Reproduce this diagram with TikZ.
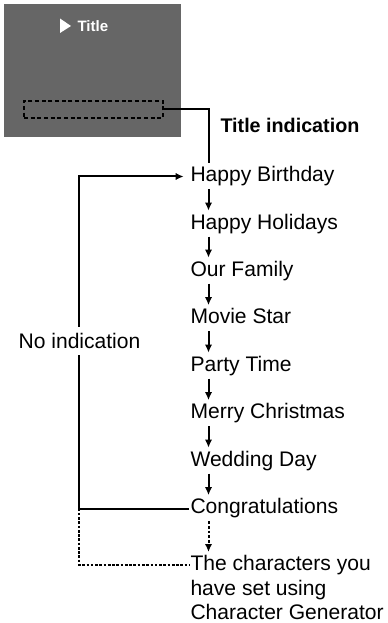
\documentclass[tikz,border=0pt]{standalone}
\usepackage{fontspec}
\setmainfont{Liberation Sans}
\usetikzlibrary{arrows.meta}
\definecolor{screengrey}{RGB}{102,102,102}

\tikzset{every picture/.style={line width=0.75pt}}
\tikzset{
  item/.style={anchor=west,inner sep=0.75pt,font=\fontsize{15.8}{18.4}\selectfont,text height=11.5pt,text depth=3.3pt},
  stepline/.style={line width=1.5pt,-{Latex[length=6pt,width=5.5pt]},shorten <=1pt,shorten >=1.5pt},
  loopline/.style={line width=1.5pt},
  dotline/.style={line width=1.3pt,dash pattern={on 2pt off 1.2pt}}
}

\begin{document}
\begin{tikzpicture}[x=0.75pt,y=0.75pt,yscale=-1,xscale=1]
\useasboundingbox (0,0) rectangle (387,623);

%Screen
\fill [screengrey] (4,4) rectangle (181,137);
\fill [white] (60,18.5) -- (71,26) -- (60,33) -- cycle;
% Text Node
\node (scrtitle) at (76,26) [anchor=west,inner sep=0.75pt,text=white,font=\fontsize{11.3}{13}\selectfont\bfseries] {Title};
%Dashed box
\node (tbox) at (93.5,109.5) [draw,line width=1.2pt,dash pattern={on 3pt off 2pt},minimum width=104.25pt,minimum height=12.75pt,inner sep=0pt] {};

% Text Node
\node (tind) at (219,125.5) [anchor=west,inner sep=0.75pt,font=\fontsize{14.8}{17}\selectfont\bfseries] {Title indication};

% Text Nodes
\node (hb) at (189,176.5) [item] {Happy Birthday};
\node (hh) at (189,224) [item] {Happy Holidays};
\node (of) at (189,271) [item] {Our Family};
\node (ms) at (189,318.5) [item] {Movie Star};
\node (pt) at (189,366) [item] {Party Time};
\node (mc) at (189,413.5) [item] {Merry Christmas};
\node (wd) at (189,461) [item] {Wedding Day};
\node (cg) at (189,508.5) [item] {Congratulations};
\node (chars) at (189,554) [anchor=north west,inner sep=0.75pt,font=\fontsize{15.8}{18.4}\selectfont,align=left] {The characters you\\have set using\\Character Generator};

\coordinate (spine) at (208.5,0);
\coordinate (left) at (79,0);
\coordinate (hbtop) at (208.5,163);
\coordinate (charsin) at (190,565);

%Straight Lines
\draw [loopline] (tbox.east) -| (hbtop);
\foreach \a/\b in {hb/hh,hh/of,of/ms,ms/pt,pt/mc,mc/wd,wd/cg}
  \draw [stepline] (\a.south -| spine) -- (\b.north -| spine);
\draw [stepline,dash pattern={on 2pt off 1.5pt}] (cg.south -| spine) -- (chars.north -| spine);

%Loop back
\draw [loopline,-{Latex[length=6pt,width=5.5pt]},shorten >=4pt] (cg.west) -- (cg.west -| left) -- (hb.west -| left) -- (hb.west);
\draw [dotline] (cg.west -| left) -- (charsin -| left) -- (charsin);

% Text Node
\node (noind) at (79.5,341) [anchor=center,fill=white,inner xsep=0.75pt,inner ysep=5pt,font=\fontsize{15.8}{18.4}\selectfont,text height=11.5pt,text depth=0pt] {No indication};

\end{tikzpicture}
\end{document}
